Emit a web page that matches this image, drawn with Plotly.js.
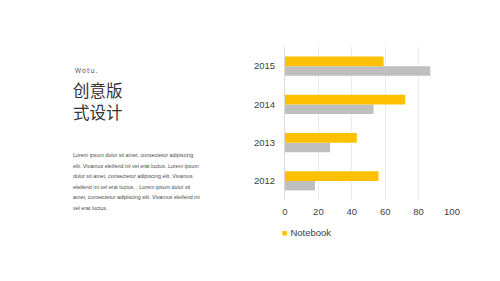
<!DOCTYPE html>
<html>
<head>
<meta charset="utf-8">
<script src="https://cdn.plot.ly/plotly-3.0.1.min.js"></script>
<style>html,body{margin:0;padding:0;background:#fff;}#chart{width:500px;height:281px;}</style>
</head>
<body>
<div id="chart"></div>
<script>
const years = ['2012', '2013', '2014', '2015'];
const notebook = [56, 43, 72, 59];
const other = [18, 27, 53, 87];
const brand = 'W\u2009o\u2009t\u2009u\u2009.';
const titleLines = ['创意版', '式设计'];
const bodyLines = [
  'Lorem ipsum dolor sit amet, consectetur adipiscing',
  'elit. Vivamus eleifend mi vel erat luctus. Lorem ipsum',
  'dolor sit amet, consectetur adipiscing elit. Vivamus',
  'eleifend mi vel erat luctus. . Lorem ipsum dolor sit',
  'amet, consectetur adipiscing elit. Vivamus eleifend mi',
  'vel erat luctus.'
];
const xTicks = [0, 20, 40, 60, 80, 100];
const legendLabel = 'Notebook';

const traces = [
  {type: 'bar', orientation: 'h', y: years, x: other, name: 'Other',
   marker: {color: '#BFBFBF'}, showlegend: false, hoverinfo: 'none'},
  {type: 'bar', orientation: 'h', y: years, x: notebook, name: legendLabel,
   marker: {color: '#FFC000'}, showlegend: false, hoverinfo: 'none'}
];

const H = 153;
const yp = py => 1.0 - (py - 47) / H;
const xp = px => (px - 285) / 167;

const annotations = [];
annotations.push({xref: 'paper', yref: 'paper', x: xp(73), y: yp(70),
  text: brand, showarrow: false, xanchor: 'left', yanchor: 'middle',
  font: {family: 'Open Sans', size: 6.5, color: '#404040'}});
titleLines.forEach((t, i) => {
  annotations.push({xref: 'paper', yref: 'paper', x: xp(71), y: yp(90 + i * 22),
    text: t, showarrow: false, xanchor: 'left', yanchor: 'middle',
    font: {family: 'Noto Sans CJK SC', size: 16.5, color: '#333333'}});
});
bodyLines.forEach((t, i) => {
  annotations.push({xref: 'paper', yref: 'paper', x: xp(71), y: yp(155 + i * 10.5),
    text: t, showarrow: false, xanchor: 'left', yanchor: 'middle',
    font: {family: 'Liberation Sans', size: 5.35, color: '#4a4a4a'}});
});
annotations.push({xref: 'paper', yref: 'paper', x: xp(280), y: yp(233),
  text: '<span style="color:#FFC000">\u25A0</span> ' + legendLabel, showarrow: false,
  xanchor: 'left', yanchor: 'middle',
  font: {family: 'Liberation Sans', size: 9.5, color: '#404040'}});

const layout = {
  width: 500, height: 281,
  margin: {l: 285, r: 48, t: 47, b: 81, pad: 0},
  paper_bgcolor: '#ffffff', plot_bgcolor: '#ffffff',
  barmode: 'group', bargap: 0.5, bargroupgap: 0,
  showlegend: false,
  xaxis: {range: [0, 100], tickvals: xTicks, showgrid: true, gridcolor: '#EBEBEB', gridwidth: 1,
    zeroline: false, showline: false, ticks: 'outside', ticklen: 3, tickcolor: 'rgba(0,0,0,0)',
    tickfont: {family: 'Liberation Sans', size: 9.5, color: '#404040'}, fixedrange: true},
  yaxis: {type: 'category', categoryorder: 'array', categoryarray: years, range: [-0.5, 3.5],
    showgrid: false, zeroline: false, showline: true, linecolor: '#D9D9D9', linewidth: 1,
    ticks: 'outside', ticklen: 7, tickcolor: 'rgba(0,0,0,0)',
    tickfont: {family: 'Liberation Sans', size: 9.5, color: '#404040'}, fixedrange: true},
  annotations: annotations
};

Plotly.newPlot('chart', traces, layout, {displayModeBar: false, staticPlot: true});
</script>
</body>
</html>
